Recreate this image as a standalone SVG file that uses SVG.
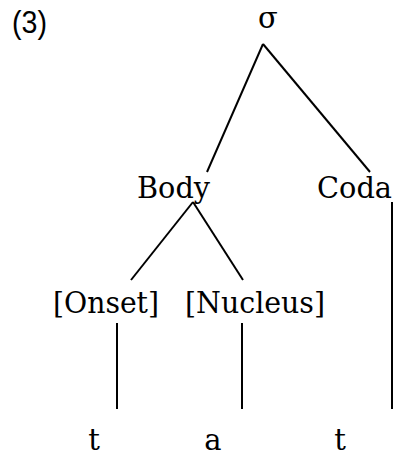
<svg xmlns="http://www.w3.org/2000/svg" width="395" height="456" viewBox="0 0 395 456">
  <style>
    .lbl { font-family: "DejaVu Serif", "Liberation Serif", serif; font-size: 29px; fill: #000; }
    .num { font-family: "Liberation Sans", Arial, sans-serif; font-size: 32px; fill: #000; }
    .edge { stroke: #000; stroke-width: 2; fill: none; }
  </style>
  <rect width="395" height="456" fill="#fff"/>
  <text class="num" x="12" y="33" textLength="35" lengthAdjust="spacingAndGlyphs">(3)</text>

  <!-- tree edges -->
  <g id="connectors">
    <line class="edge" x1="263" y1="44" x2="207" y2="172"/>
    <line class="edge" x1="263" y1="44" x2="370" y2="172"/>
    <line class="edge" x1="193" y1="202" x2="131" y2="280"/>
    <line class="edge" x1="193" y1="202" x2="243" y2="280"/>
    <line class="edge" x1="117" y1="323" x2="117" y2="409"/>
    <line class="edge" x1="242" y1="323" x2="242" y2="409"/>
    <line class="edge" x1="392" y1="202" x2="392" y2="409"/>
  </g>

  <!-- nodes -->
  <g id="sigma"><text class="lbl" x="268" y="28" text-anchor="middle">σ</text></g>
  <g id="body"><text class="lbl" x="137" y="198" textLength="73" lengthAdjust="spacingAndGlyphs">Body</text></g>
  <g id="coda"><text class="lbl" x="317" y="198" textLength="75" lengthAdjust="spacingAndGlyphs">Coda</text></g>
  <g id="onset"><text class="lbl" x="53" y="313" textLength="106" lengthAdjust="spacingAndGlyphs">[Onset]</text></g>
  <g id="nucleus"><text class="lbl" x="185" y="313" textLength="140" lengthAdjust="spacingAndGlyphs">[Nucleus]</text></g>
  <g id="seg-t1"><text class="lbl" x="94" y="450" text-anchor="middle">t</text></g>
  <g id="seg-a"><text class="lbl" x="213" y="450" text-anchor="middle">a</text></g>
  <g id="seg-t2"><text class="lbl" x="340" y="450" text-anchor="middle">t</text></g>
</svg>
